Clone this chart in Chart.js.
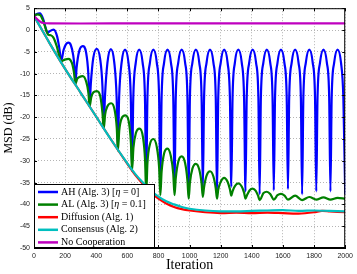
<!DOCTYPE html>
<html>
<head>
<meta charset="utf-8">
<script src="https://cdn.jsdelivr.net/npm/chart.js@4"></script>
<style>
    html, body { margin: 0; padding: 0; background: #fff; }
    #wrap { width: 357px; height: 274px; }
</style>
</head>
<body>
<div id="wrap"><canvas id="msdChart" width="357" height="274"></canvas></div>
<script>
// MSD learning curves: [iteration, dB]
const xTicks = [0, 200, 400, 600, 800, 1000, 1200, 1400, 1600, 1800, 2000];
const yTicks = [5, 0, -5, -10, -15, -20, -25, -30, -35, -40, -45, -50];

const legendLabels = ['AH (Alg. 3) [η = 0]', 'AL (Alg. 3) [η = 0.1]', 'Diffusion (Alg. 1)', 'Consensus (Alg. 2)', 'No Cooperation'];

const ahCurve = [
    [0, 3.2], [15, 3.6], [38, 3.8], [58, 2.6], [74, 0.6], [86, -0.7], [100, -0.3], [126, 0.1], [148, -1.4], [163, -4.2], [175, -7.1],
    [190, -4.6], [205, -3.3], [221, -2.9], [237, -3.5], [252, -5.8], [261, -8.8], [266, -12.3],
    [274, -8.6], [290, -4.9], [313, -3.7], [335, -5.2], [349, -10], [357, -17.5],
    [365, -12.4], [381, -6.4], [403, -4.3], [425, -6.6], [440, -13], [448, -22.6],
    [456, -15.3], [472, -7.5], [494, -4.4], [516, -7.5], [531, -15.5], [539, -27.5],
    [547, -15.5], [563, -7.5], [585, -4.5], [607, -7.5], [622, -15.5], [630, -32.2],
    [638, -15.5], [654, -7.5], [676, -4.5], [698, -7.5], [713, -15.5], [721, -35],
    [729, -15.5], [745, -7.5], [767, -4.5], [789, -7.5], [804, -15.5], [812, -35.6],
    [820, -15.5], [836, -7.5], [858, -4.5], [880, -7.5], [895, -15.5], [903, -36.4],
    [911, -15.5], [927, -7.5], [949, -4.5], [971, -7.5], [986, -15.5], [994, -37.1],
    [1002, -15.5], [1018, -7.5], [1040, -4.5], [1062, -7.5], [1077, -15.5], [1085, -36.6],
    [1093, -15.5], [1109, -7.5], [1131, -4.5], [1153, -7.5], [1168, -15.5], [1176, -37.7],
    [1184, -15.5], [1200, -7.5], [1222, -4.5], [1244, -7.5], [1259, -15.5], [1268, -36],
    [1276, -15.5], [1291, -7.5], [1313, -4.5], [1335, -7.5], [1350, -15.5], [1359, -37],
    [1367, -15.5], [1383, -7.5], [1405, -4.5], [1427, -7.5], [1442, -15.5], [1450, -37.7],
    [1458, -15.5], [1474, -7.5], [1496, -4.5], [1518, -7.5], [1533, -15.5], [1541, -36.8],
    [1549, -15.5], [1565, -7.5], [1587, -4.5], [1609, -7.5], [1624, -15.5], [1632, -36.5],
    [1640, -15.5], [1656, -7.5], [1678, -4.5], [1700, -7.5], [1715, -15.5], [1723, -37.7],
    [1731, -15.5], [1747, -7.5], [1769, -4.5], [1791, -7.5], [1806, -15.5], [1814, -37],
    [1822, -15.5], [1838, -7.5], [1860, -4.5], [1882, -7.5], [1897, -15.5], [1905, -37],
    [1913, -15.5], [1929, -7.5], [1951, -4.5], [1973, -7.5], [1988, -15.5], [2000, -37.7]
];

const alCurve = [
    [0, 3.2], [20, 3.6], [40, 3.4], [60, 2.0], [78, 0.0], [92, -1.1], [108, -1.2], [124, -1.7], [145, -3.6], [163, -6.0], [175, -7.2],
    [198, -6.8], [222, -6.6], [244, -7.6], [258, -10], [266, -12.4],
    [278, -11.2], [292, -10.8], [313, -10.6], [335, -11.8], [350, -14.5], [357, -17.6],
    [368, -15.4], [382, -14.3], [404, -14], [426, -15.2], [440, -19], [448, -22.7],
    [457, -19.4], [472, -17.5], [496, -16.8], [518, -18.3], [532, -22.5], [539, -27.7],
    [548, -23], [563, -20.3], [587, -19.6], [609, -21], [623, -26], [630, -32.3],
    [639, -27], [655, -23.6], [678, -22.6], [700, -24.5], [714, -30], [721, -37.5],
    [729, -30.5], [745, -26.2], [767, -25], [789, -26.8], [804, -31.5], [812, -37.9],
    [820, -32.5], [836, -28.3], [858, -27.2], [880, -29], [895, -33], [903, -37.9],
    [911, -34], [927, -30.2], [949, -29], [971, -30.5], [986, -34.5], [994, -38.7],
    [1002, -35], [1018, -31.8], [1040, -30.7], [1062, -32], [1077, -35.2], [1085, -38.3],
    [1093, -36], [1109, -33.4], [1131, -32.4], [1153, -33.6], [1168, -36.3], [1176, -38.7],
    [1184, -36.6], [1200, -34.8], [1222, -33.9], [1244, -34.8], [1259, -36.5], [1268, -38],
    [1276, -37], [1291, -35.8], [1313, -35.2], [1335, -35.9], [1350, -37.3], [1359, -38.7],
    [1370, -37.8], [1385, -36.8], [1405, -36.4], [1425, -36.9], [1440, -38], [1450, -39],
    [1475, -37.4], [1496, -37.1], [1518, -37.6], [1541, -38.9],
    [1565, -37.9], [1587, -37.6], [1610, -38], [1632, -38.9],
    [1678, -38], [1723, -39], [1769, -38.3], [1814, -38.9], [1860, -38.4], [1905, -38.9], [1951, -38.5], [2000, -38.7]
];

const diffusionCurve = [
    [0, 3.2], [100, -3], [200, -8.9], [300, -14.4], [400, -19.9], [500, -25.4], [600, -30.7], [650, -33.2],
    [700, -35.3], [750, -37.2], [800, -38.7], [850, -39.8], [900, -40.6], [950, -41.1], [1000, -41.4],
    [1100, -41.8], [1200, -42], [1300, -41.9], [1400, -42], [1500, -41.9], [1600, -42], [1700, -42.1],
    [1800, -41.8], [1850, -41.5], [1900, -41.6], [2000, -41.8]
];

const consensusCurve = [
    [0, 3.2], [100, -3], [200, -8.9], [300, -14.4], [400, -19.9], [500, -25.4], [600, -30.6], [650, -33],
    [700, -35], [750, -36.8], [800, -38.2], [850, -39.3], [900, -40], [950, -40.6], [1000, -41],
    [1100, -41.4], [1200, -41.6], [1300, -41.6], [1400, -41.5], [1500, -41.4], [1600, -41.3], [1700, -41.5],
    [1800, -41.4], [1900, -41.5], [2000, -41.6]
];

const noCoopCurve = [
    [0, 3.2], [20, 2.5], [40, 1.9], [60, 1.6], [100, 1.5], [500, 1.5], [1000, 1.5], [1500, 1.5], [2000, 1.5]
];

const lineColors = ['#0000ff', '#008000', '#ff0000', '#00bfbf', '#bf00bf'];
const curves = [ahCurve, alCurve, diffusionCurve, consensusCurve, noCoopCurve];

const toPoints = arr => arr.map(p => ({ x: p[0], y: p[1] }));

// box, inward ticks and the in-plot legend, MATLAB style
const frameAndLegend = {
    id: 'frameAndLegend',
    afterDraw(chart) {
        const { ctx, chartArea: a, scales } = chart;
        ctx.save();
        ctx.strokeStyle = '#000';
        ctx.lineWidth = 1;
        ctx.beginPath();
        xTicks.forEach(v => {
            const x = Math.round(scales.x.getPixelForValue(v)) + 0.5;
            ctx.moveTo(x, a.bottom); ctx.lineTo(x, a.bottom - 3);
            ctx.moveTo(x, a.top); ctx.lineTo(x, a.top + 3);
        });
        yTicks.forEach(v => {
            const y = Math.round(scales.y.getPixelForValue(v)) + 0.5;
            ctx.moveTo(a.left, y); ctx.lineTo(a.left + 3, y);
            ctx.moveTo(a.right, y); ctx.lineTo(a.right - 3, y);
        });
        ctx.stroke();
        ctx.strokeRect(a.left + 0.5, a.top + 0.5, a.right - a.left - 1, a.bottom - a.top - 1);

        // legend box
        const bx = a.left, by = a.bottom - 64, bw = 120, bh = 64;
        ctx.fillStyle = '#fff';
        ctx.fillRect(bx, by, bw, bh);
        ctx.strokeRect(bx + 0.5, by + 0.5, bw, bh - 1);
        ctx.textBaseline = 'middle';
        legendLabels.forEach((label, i) => {
            const y = by + 8 + i * 12.6;
            ctx.strokeStyle = lineColors[i];
            ctx.lineWidth = 2.5;
            ctx.beginPath();
            ctx.moveTo(bx + 4, y); ctx.lineTo(bx + 24, y);
            ctx.stroke();
            let x = bx + 27;
            label.split(/(η)/).forEach(part => {
                if (!part) return;
                ctx.font = (part === 'η' ? 'italic ' : '') + '10px "Liberation Serif", "DejaVu Serif", serif';
                ctx.fillStyle = '#000';
                ctx.fillText(part, x, y);
                x += ctx.measureText(part).width;
            });
        });
        ctx.restore();
    }
};

new Chart(document.getElementById('msdChart'), {
    type: 'line',
    data: {
        datasets: curves.map((c, i) => ({
            label: legendLabels[i],
            data: toPoints(c),
            borderColor: lineColors[i],
            backgroundColor: lineColors[i],
            borderWidth: 2.2,
            pointRadius: 0,
            fill: false,
            cubicInterpolationMode: i < 2 ? 'monotone' : 'default',
            tension: i < 2 ? 0 : 0.3,
            order: 5 - i,
        }))
    },
    options: {
        responsive: false,
        animation: false,
        events: [],
        layout: { padding: { top: 7, right: 11, left: 0, bottom: 0 } },
        plugins: { legend: { display: false }, tooltip: { enabled: false } },
        scales: {
            x: {
                type: 'linear',
                min: 0, max: 2000,
                afterFit: s => { s.height = 26; },
                afterBuildTicks: s => { s.ticks = xTicks.map(v => ({ value: v })); },
                ticks: { padding: 4, maxRotation: 0, color: '#222', font: { size: 7, family: '"Liberation Sans", Arial, sans-serif' }, callback: v => String(v) },
                grid: { color: '#b4b4b4', drawTicks: false },
                border: { color: '#000', dash: [1, 2] },
                title: { display: true, text: 'Iteration', color: '#000', padding: { top: 0, bottom: 0 }, font: { size: 14, family: '"Liberation Serif", serif' } }
            },
            y: {
                min: -50, max: 5,
                afterFit: s => { s.width = 34; },
                afterBuildTicks: s => { s.ticks = yTicks.map(v => ({ value: v })); },
                ticks: { padding: 4, color: '#222', font: { size: 7, family: '"Liberation Sans", Arial, sans-serif' }, callback: v => String(v) },
                grid: { color: '#b4b4b4', drawTicks: false },
                border: { color: '#000', dash: [1, 2] },
                title: { display: true, text: 'MSD (dB)', color: '#000', padding: { top: 2, bottom: 0 }, font: { size: 12, family: '"Liberation Serif", serif' } }
            }
        }
    },
    plugins: [frameAndLegend]
});
</script>
</body>
</html>
